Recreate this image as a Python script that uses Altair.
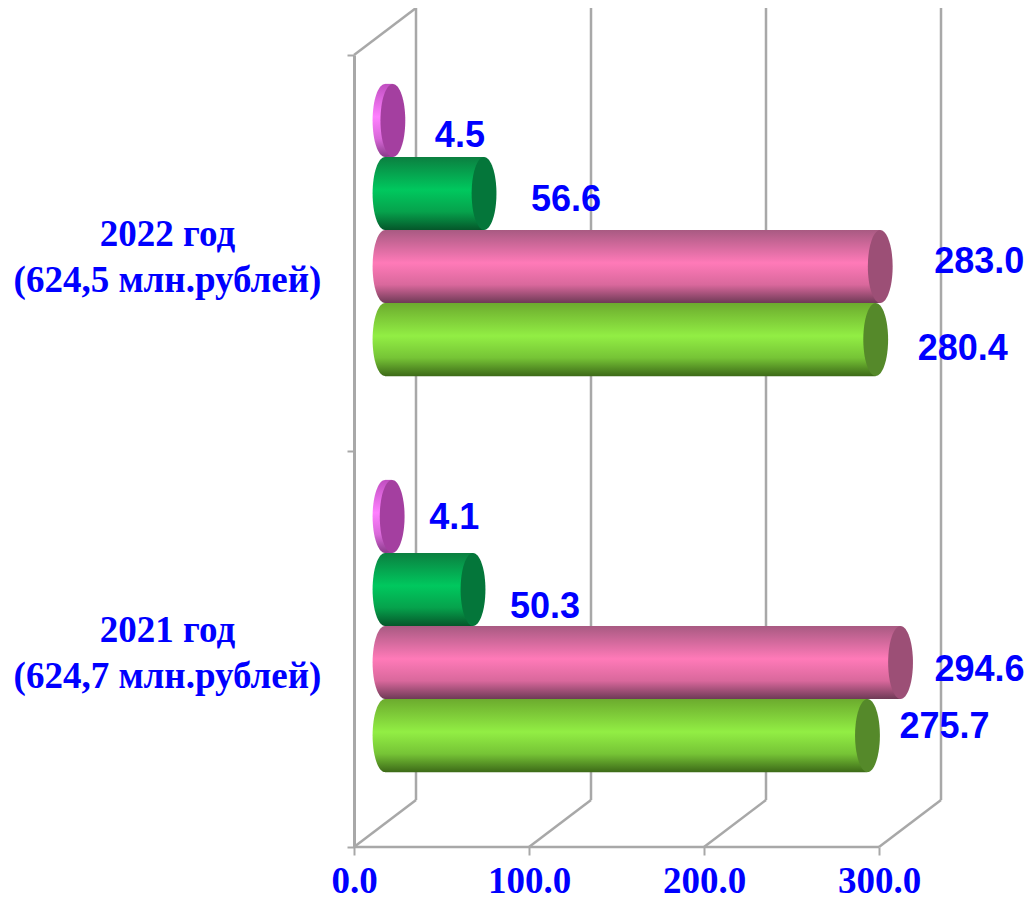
import altair as alt
import pandas as pd

years = ["2022 год|(624,5 млн.рублей)", "2021 год|(624,7 млн.рублей)"]
series = ["S4", "S3", "S2", "S1"]  # top to bottom inside each group
values_2022 = [4.5, 56.6, 283.0, 280.4]
values_2021 = [4.1, 50.3, 294.6, 275.7]
ticks = [0, 100, 200, 300]

rows = []
for yr, vals in zip(years, [values_2022, values_2021]):
    for s, v in zip(series, vals):
        rows.append({"year": yr, "series": s, "value": v, "start": 0})
df = pd.DataFrame(rows)

PX = 1.75
W, H = 671, 792
DEPTH_X = 62 / PX
GRAY = "#a8a8a8"
BLUE = "#0000ff"
SHIFT_X, SHIFT_Y = 31, -23
ELL = "M-0.34,0 A0.34,1 0 1,1 0.34,0 A0.34,1 0 1,1 -0.34,0 Z"


def grad(c0, c1, c2, c3):
    return alt.Gradient(
        gradient="linear", x1=0, x2=0, y1=0, y2=1,
        stops=[
            alt.GradientStop(offset=0, color=c0),
            alt.GradientStop(offset=0.45, color=c1),
            alt.GradientStop(offset=0.75, color=c2),
            alt.GradientStop(offset=1, color=c3),
        ],
    )


styles = {
    "S1": (grad("#6cab2e", "#92ee44", "#76c436", "#3d6a18"), "#55892a"),
    "S2": (grad("#a85a82", "#ff7ab8", "#d9689c", "#6e3a56"), "#9c4f76"),
    "S3": (grad("#0b7f40", "#00c85e", "#06a24c", "#05562a"), "#04763a"),
    "S4": (grad("#c04ec0", "#ff80ff", "#d868d8", "#8a3a8a"), "#a43fa0"),
}

xscale = alt.Scale(domain=[0, W / PX], nice=False, zero=False)
xaxis = alt.Axis(
    values=ticks, format=".1f", title=None, grid=False, domain=False,
    tickColor=GRAY, tickWidth=2, tickSize=8, labelFont="Liberation Serif", labelFontWeight="bold",
    labelFontSize=37, labelColor=BLUE, labelPadding=8, labelFlush=False, labelOverlap=False,
)
yaxis = alt.Axis(
    title=None, grid=False, domainColor=GRAY, domainWidth=3, tickColor=GRAY, tickWidth=2, tickSize=7,
    tickBand="extent", labelFont="Liberation Serif", labelFontWeight="bold", labelFontSize=37,
    labelColor=BLUE, labelAlign="center", labelBaseline="middle", labelPadding=180, labelLimit=500,
    labelLineHeight=46, labelExpr="split(datum.label, '|')", labelAngle=0, labelOffset=-19,
)
Y = alt.Y("year:N", sort=years, scale=alt.Scale(domain=years, paddingInner=0, paddingOuter=0), axis=yaxis)
YO = alt.YOffset("series:N", sort=series,
                 scale=alt.Scale(domain=series, paddingInner=0, paddingOuter=0.71,
                                 range=[SHIFT_Y, H / 2 + SHIFT_Y]))
X_V = alt.X("value:Q", scale=xscale, axis=xaxis)
X_S = alt.X("start:Q", scale=xscale, axis=xaxis)

tick_df = pd.DataFrame({"t": ticks, "b": [t + DEPTH_X for t in ticks]})
X_B = alt.X("b:Q", scale=xscale, axis=xaxis)
X_T = alt.X("t:Q", scale=xscale, axis=xaxis)
rule = dict(color=GRAY, strokeWidth=2.5)

layers = [
    # back wall verticals
    alt.Chart(tick_df).mark_rule(**rule).encode(x=X_B, y=alt.value(-47), y2=alt.value(745)),
    # floor diagonals
    alt.Chart(tick_df).mark_rule(**rule).encode(x=X_T, x2="b:Q", y=alt.value(792), y2=alt.value(745)),
    # wall top diagonal
    alt.Chart(tick_df[tick_df.t == 0]).mark_rule(**rule).encode(x=X_T, x2="b:Q", y=alt.value(0), y2=alt.value(-47)),
    # floor front edge
    alt.Chart(pd.DataFrame({"a": [ticks[0]], "c": [ticks[-1]]})).mark_rule(**rule).encode(
        x=alt.X("a:Q", scale=xscale, axis=xaxis), x2="c:Q", y=alt.value(792)
    ),
]

# cylinders, back series first so that upper ones overlap lower ones
for s in ["S1", "S2", "S3", "S4"]:
    d = df[df.series == s]
    g, cap = styles[s]
    base = alt.Chart(d)
    layers.append(
        base.mark_point(shape=ELL, size=5329, filled=True, fill=g, opacity=1, strokeWidth=0,
                        xOffset=SHIFT_X).encode(x=X_S, y=Y, yOffset=YO)
    )
    layers.append(
        base.mark_bar(fill=g, xOffset=SHIFT_X, x2Offset=SHIFT_X).encode(
            x=X_S, x2="value:Q", y=Y, yOffset=YO
        )
    )
    layers.append(
        base.mark_point(shape=ELL, size=5329, filled=True, fill=cap, opacity=1, strokeWidth=0,
                        xOffset=SHIFT_X).encode(x=X_V, y=Y, yOffset=YO)
    )

# hand-placed value labels, as in the source slide
label_shift = {
    (0, "S4"): (98, 16), (0, "S3"): (113, 7), (0, "S2"): (130, -5), (0, "S1"): (118, 9),
    (1, "S4"): (93, 2), (1, "S3"): (103, 18), (1, "S2"): (110, 7), (1, "S1"): (108, -9),
}
for (yi, s), (dx, dy) in label_shift.items():
    d = df[(df.series == s) & (df.year == years[yi])]
    layers.append(
        alt.Chart(d).mark_text(font="Liberation Sans", fontWeight="bold", fontSize=36, color=BLUE,
                               align="center", baseline="middle", dx=dx, dy=dy).encode(
            x=X_V, y=Y, yOffset=YO, text=alt.Text("value:Q", format=".1f")
        )
    )

chart = (
    alt.layer(*layers)
    .properties(width=W, height=H, padding={"left": 346, "top": 47, "right": 0, "bottom": 53},
                autosize=alt.AutoSizeParams(type="none"), background="white")
    .configure_view(stroke=None)
)
chart.save("out.html", embed_options={"renderer": "svg", "actions": False})
